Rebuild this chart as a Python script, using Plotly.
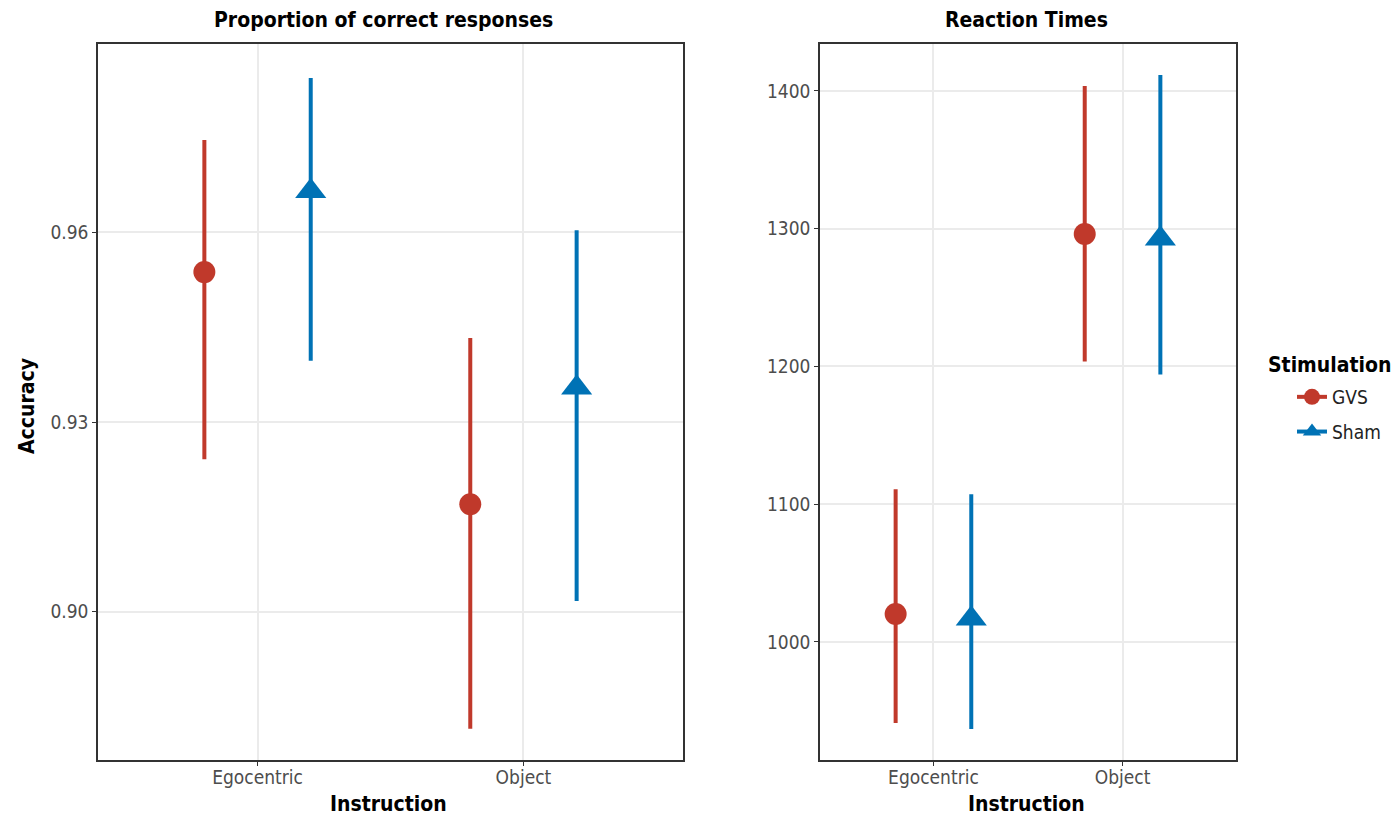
import plotly.graph_objects as go

instructions = ["Egocentric", "Object"]
groups = ["GVS", "Sham"]

acc_mean = {"GVS": [0.9537, 0.9170], "Sham": [0.9665, 0.9354]}
acc_low = {"GVS": [0.9241, 0.8815], "Sham": [0.9397, 0.9017]}
acc_high = {"GVS": [0.9746, 0.9433], "Sham": [0.9844, 0.9603]}

rt_mean = {"GVS": [1020.3, 1296.1], "Sham": [1016.9, 1292.7]}
rt_low = {"GVS": [941.2, 1203.6], "Sham": [936.8, 1194.2]}
rt_high = {"GVS": [1110.9, 1403.6], "Sham": [1107.3, 1411.6]}

colors = {"GVS": "#C0392B", "Sham": "#0072B5"}
symbols = {"GVS": "circle", "Sham": "triangle-up"}
sizes = {"GVS": 22, "Sham": 27}
offsets = {"GVS": -0.2, "Sham": 0.2}

FONT = "DejaVu Sans Condensed, Liberation Sans Narrow, Roboto, sans-serif"

fig = go.Figure()

def add_panel(mean, low, high, xa, ya):
    for g in groups:
        xs = [i + 1 + offsets[g] for i in range(len(instructions))]
        fig.add_trace(go.Scatter(
            x=xs, y=mean[g], mode="markers",
            marker=dict(color=colors[g], symbol=symbols[g], size=sizes[g], line=dict(width=0)),
            error_y=dict(type="data", symmetric=False,
                         array=[h - m for h, m in zip(high[g], mean[g])],
                         arrayminus=[m - l for m, l in zip(mean[g], low[g])],
                         color=colors[g], thickness=4, width=0),
            xaxis=xa, yaxis=ya, showlegend=False, hoverinfo="skip"))

add_panel(acc_mean, acc_low, acc_high, "x", "y")
add_panel(rt_mean, rt_low, rt_high, "x2", "y2")

for g in groups:
    fig.add_trace(go.Scatter(x=[None], y=[None], mode="lines+markers", name=g, legendgroup=g,
                             line=dict(color=colors[g], width=4),
                             marker=dict(color=colors[g], symbol=symbols[g], size=sizes[g] - 4),
                             xaxis="x", yaxis="y"))

tickfont = dict(family=FONT, size=19, color="#4d4d4d")
axis_common = dict(showline=True, mirror=True, linecolor="#333333", linewidth=1.5,
                   ticks="outside", ticklen=4, tickcolor="#333333", tickwidth=1.2,
                   showgrid=True, gridcolor="#ebebeb", gridwidth=1.5, zeroline=False,
                   tickfont=tickfont)

ydom = [1 - 760 / 819, 1 - 44 / 819]

fig.update_layout(
    width=1399, height=819,
    margin=dict(l=0, r=0, t=0, b=0),
    paper_bgcolor="white", plot_bgcolor="white",
    xaxis=dict(domain=[98 / 1399, 683 / 1399], range=[0.4, 2.6], ticklabelstandoff=-5,
               tickvals=[1, 2], ticktext=instructions, anchor="y", **axis_common),
    yaxis=dict(domain=ydom, range=[0.87657, 0.98976], tickvals=[0.90, 0.93, 0.96],
               tickformat=".2f", anchor="x", **axis_common),
    xaxis2=dict(domain=[820 / 1399, 1236 / 1399], range=[0.4, 2.6], ticklabelstandoff=-5,
                tickvals=[1, 2], ticktext=instructions, anchor="y2", **axis_common),
    yaxis2=dict(domain=ydom, range=[914.3, 1434.1], tickvals=[1000, 1100, 1200, 1300, 1400],
                anchor="x2", **axis_common),
    legend=dict(x=1292 / 1399, y=1 - 378 / 819, xanchor="left", yanchor="top",
                font=dict(family=FONT, size=19, color="#222222"),
                bgcolor="rgba(0,0,0,0)", tracegroupgap=7, itemwidth=30),
    font=dict(family=FONT),
)

ann_font = dict(family=FONT, size=21, color="black")
annots = [
    dict(text="<b>Proportion of correct responses</b>", x=383 / 1399, y=1 - 20 / 819),
    dict(text="<b>Reaction Times</b>", x=1026 / 1399, y=1 - 20 / 819),
    dict(text="<b>Instruction</b>", x=389 / 1399, y=1 - 804 / 819),
    dict(text="<b>Instruction</b>", x=1026 / 1399, y=1 - 804 / 819),
]
for a in annots:
    fig.add_annotation(xref="paper", yref="paper", showarrow=False, font=ann_font,
                       xanchor="center", yanchor="middle", **a)
fig.add_annotation(text="<b>Stimulation</b>", xref="paper", yref="paper", x=1266 / 1399, y=1 - 365 / 819,
                   showarrow=False, font=ann_font, xanchor="left", yanchor="middle")
fig.add_annotation(text="<b>Accuracy</b>", xref="paper", yref="paper", x=27 / 1399, y=1 - 406 / 819,
                   showarrow=False, font=ann_font, textangle=-90, xanchor="center", yanchor="middle")

fig.write_html("out.html")
